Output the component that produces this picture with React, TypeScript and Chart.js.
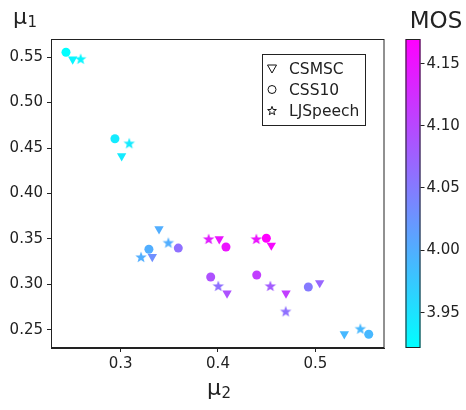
import React, { useEffect, useRef } from 'react';
import { Chart, registerables } from 'chart.js';

Chart.register(...registerables);

// ---- data (mu2 = x, mu1 = y, MOS = colour) ----
const CSMSC_MU2 = [0.2507, 0.301, 0.3394, 0.3325, 0.4013, 0.4548, 0.4093, 0.4699, 0.5045, 0.5298];
const CSMSC_MU1 = [0.5475, 0.4412, 0.361, 0.3305, 0.35, 0.343, 0.2903, 0.2903, 0.3017, 0.2456];
const CSMSC_MOS = [3.93, 3.94, 4.0, 4.03, 4.15, 4.16, 4.09, 4.11, 4.07, 3.99];

const CSS10_MU2 = [0.2438, 0.2941, 0.3592, 0.329, 0.4082, 0.4497, 0.3925, 0.4398, 0.4928, 0.5549];
const CSS10_MU1 = [0.5552, 0.4602, 0.34, 0.3387, 0.3412, 0.3508, 0.3082, 0.3104, 0.2973, 0.2453];
const CSS10_MOS = [3.921, 3.94, 4.06, 4.0, 4.15, 4.169, 4.09, 4.11, 4.05, 3.99];

const LJ_MU2 = [0.2589, 0.3088, 0.349, 0.3209, 0.3904, 0.4394, 0.4003, 0.4538, 0.4696, 0.5463];
const LJ_MU1 = [0.548, 0.4552, 0.346, 0.3302, 0.35, 0.35, 0.2984, 0.2984, 0.2705, 0.2514];
const LJ_MOS = [3.93, 3.94, 4.0, 4.0, 4.14, 4.15, 4.06, 4.08, 4.06, 3.99];

const SERIES_LABELS = ['CSMSC', 'CSS10', 'LJSpeech'];
const X_TICKS = [0.3, 0.4, 0.5];
const Y_TICKS = [0.25, 0.3, 0.35, 0.4, 0.45, 0.5, 0.55];
const MOS_TICKS = [3.95, 4.0, 4.05, 4.1, 4.15];
const MOS_MIN = 3.921;
const MOS_MAX = 4.169;
const X_MIN = 0.2284;
const X_MAX = 0.5711;
const Y_MIN = 0.2302;
const Y_MAX = 0.5698;

const FONT = 'DejaVu Sans';
const TEXT = '#222222';

function cool(v: number): string {
  let t = (v - MOS_MIN) / (MOS_MAX - MOS_MIN);
  t = Math.max(0, Math.min(1, t));
  const r = Math.round(255 * t);
  const g = Math.round(255 * (1 - t));
  return `rgb(${r},${g},255)`;
}

function starPath(ctx: CanvasRenderingContext2D, cx: number, cy: number, R: number, r: number) {
  ctx.beginPath();
  for (let i = 0; i < 10; i++) {
    const rad = i % 2 === 0 ? R : r;
    const a = -Math.PI / 2 + (i * Math.PI) / 5;
    const px = cx + rad * Math.cos(a);
    const py = cy + rad * Math.sin(a);
    if (i === 0) ctx.moveTo(px, py);
    else ctx.lineTo(px, py);
  }
  ctx.closePath();
}

const starCache: Record<string, HTMLCanvasElement> = {};
function starImage(color: string): HTMLCanvasElement {
  if (starCache[color]) return starCache[color];
  const c = document.createElement('canvas');
  c.width = 14;
  c.height = 14;
  const ctx = c.getContext('2d')!;
  ctx.fillStyle = color;
  starPath(ctx, 7, 7.4, 6, 2.5);
  ctx.fill();
  starCache[color] = c;
  return c;
}

function toPoints(xs: number[], ys: number[]) {
  return xs.map((x, i) => ({ x, y: ys[i] }));
}

function drawMu(ctx: CanvasRenderingContext2D, x: number, baseline: number, sub: string) {
  ctx.textAlign = 'left';
  ctx.textBaseline = 'alphabetic';
  ctx.font = `22px '${FONT}'`;
  ctx.fillText('μ', x, baseline);
  const w = ctx.measureText('μ').width;
  ctx.font = `15px '${FONT}'`;
  ctx.fillText(sub, x + w + 0.5, baseline + 3);
}

const decorPlugin = {
  id: 'decor',
  afterDraw(chart: any) {
    const ctx: CanvasRenderingContext2D = chart.ctx;
    const area = chart.chartArea;
    ctx.save();
    // frame
    ctx.strokeStyle = TEXT;
    ctx.lineWidth = 1;
    ctx.strokeRect(area.left + 0.5, area.top + 0.5, area.right - area.left - 1, area.bottom - area.top - 1);

    // axis titles
    ctx.fillStyle = TEXT;
    drawMu(ctx, 13, 24, '1');
    drawMu(ctx, 207, 395, '2');
    ctx.textBaseline = 'middle';
    ctx.textAlign = 'center';
    ctx.font = `23px '${FONT}'`;
    ctx.fillText('MOS', 436, 22);

    // colorbar
    const cbL = 405.5;
    const cbW = 15;
    const top = area.top;
    const bottom = area.bottom;
    const grad = ctx.createLinearGradient(0, bottom, 0, top);
    grad.addColorStop(0, cool(MOS_MIN));
    grad.addColorStop(1, cool(MOS_MAX));
    ctx.fillStyle = grad;
    ctx.fillRect(cbL, top, cbW, bottom - top);
    ctx.strokeStyle = TEXT;
    ctx.strokeRect(cbL + 0.5, top + 0.5, cbW - 1, bottom - top - 1);
    ctx.font = `15px '${FONT}'`;
    ctx.textAlign = 'left';
    ctx.fillStyle = TEXT;
    MOS_TICKS.forEach((v) => {
      const y = bottom - ((v - MOS_MIN) / (MOS_MAX - MOS_MIN)) * (bottom - top);
      ctx.beginPath();
      ctx.moveTo(cbL + cbW, Math.round(y) + 0.5);
      ctx.lineTo(cbL + cbW + 4, Math.round(y) + 0.5);
      ctx.stroke();
      ctx.fillText(v.toFixed(2), cbL + cbW + 6, y + 1);
    });

    // legend
    const bx = 262.5, by = 54.5, bw = 103, bh = 71;
    ctx.fillStyle = '#ffffff';
    ctx.fillRect(bx, by, bw, bh);
    ctx.strokeStyle = TEXT;
    ctx.strokeRect(bx, by, bw, bh);
    const rows = [68.5, 89.5, 110.5];
    const mx = 272;
    ctx.lineWidth = 1;
    SERIES_LABELS.forEach((label, i) => {
      const y = rows[i];
      ctx.strokeStyle = '#111';
      ctx.beginPath();
      if (i === 0) {
        ctx.moveTo(mx - 4.5, y - 3.5);
        ctx.lineTo(mx + 4.5, y - 3.5);
        ctx.lineTo(mx, y + 4.5);
        ctx.closePath();
      } else if (i === 1) {
        ctx.arc(mx, y, 4, 0, Math.PI * 2);
      } else {
        starPath(ctx, mx, y + 0.5, 4.6, 1.9);
      }
      ctx.stroke();
      ctx.fillStyle = TEXT;
      ctx.font = `15.5px '${FONT}'`;
      ctx.textAlign = 'left';
      ctx.textBaseline = 'middle';
      ctx.fillText(label, 289, y + 1);
    });
    ctx.restore();
  },
};

export default function App() {
  const ref = useRef<HTMLCanvasElement | null>(null);
  useEffect(() => {
    if (!ref.current) return;
    Chart.defaults.font.family = FONT;
    const chart = new Chart(ref.current, {
      type: 'scatter',
      data: {
        datasets: [
          {
            label: SERIES_LABELS[0],
            data: toPoints(CSMSC_MU2, CSMSC_MU1),
            pointStyle: 'triangle',
            rotation: 180,
            pointRadius: 5.4,
            pointHoverRadius: 5.4,
            borderWidth: 0,
            backgroundColor: CSMSC_MOS.map(cool),
            borderColor: CSMSC_MOS.map(cool),
          },
          {
            label: SERIES_LABELS[1],
            data: toPoints(CSS10_MU2, CSS10_MU1),
            pointStyle: 'circle',
            pointRadius: 4.5,
            pointHoverRadius: 4.5,
            borderWidth: 0,
            backgroundColor: CSS10_MOS.map(cool),
            borderColor: CSS10_MOS.map(cool),
          },
          {
            label: SERIES_LABELS[2],
            data: toPoints(LJ_MU2, LJ_MU1),
            pointStyle: (c: any) => starImage(cool(LJ_MOS[c.dataIndex] ?? MOS_MIN)),
            pointRadius: 6,
            borderWidth: 0,
            backgroundColor: LJ_MOS.map(cool),
          } as any,
        ],
      },
      options: {
        animation: false,
        responsive: false,
        events: [],
        layout: { padding: { left: 0, top: 39, right: 81.5, bottom: 0 } },
        plugins: { legend: { display: false }, tooltip: { enabled: false } },
        scales: {
          x: {
            type: 'linear',
            min: X_MIN,
            max: X_MAX,
            afterBuildTicks: (s: any) => {
              s.ticks = X_TICKS.map((v) => ({ value: v }));
            },
            afterFit: (s: any) => {
              s.height = 62;
            },
            grid: { drawOnChartArea: false, drawTicks: true, tickLength: 4, color: TEXT },
            border: { display: true, color: TEXT },
            ticks: {
              color: TEXT,
              font: { size: 15, family: FONT },
              padding: 3,
              callback: (v: any) => Number(v).toFixed(1),
            },
          },
          y: {
            type: 'linear',
            min: Y_MIN,
            max: Y_MAX,
            afterBuildTicks: (s: any) => {
              s.ticks = Y_TICKS.map((v) => ({ value: v }));
            },
            afterFit: (s: any) => {
              s.width = 51;
            },
            grid: { drawOnChartArea: false, drawTicks: true, tickLength: 4, color: TEXT },
            border: { display: true, color: TEXT },
            ticks: {
              color: TEXT,
              font: { size: 15, family: FONT },
              padding: 4,
              callback: (v: any) => Number(v).toFixed(2),
            },
          },
        },
      },
      plugins: [decorPlugin],
    } as any);
    return () => chart.destroy();
  }, []);
  return (
    <div style={{ position: 'absolute', left: 0, top: 0, width: 466, height: 410, background: '#fff' }}>
      <canvas ref={ref} width={466} height={410} style={{ width: 466, height: 410 }} />
    </div>
  );
}
